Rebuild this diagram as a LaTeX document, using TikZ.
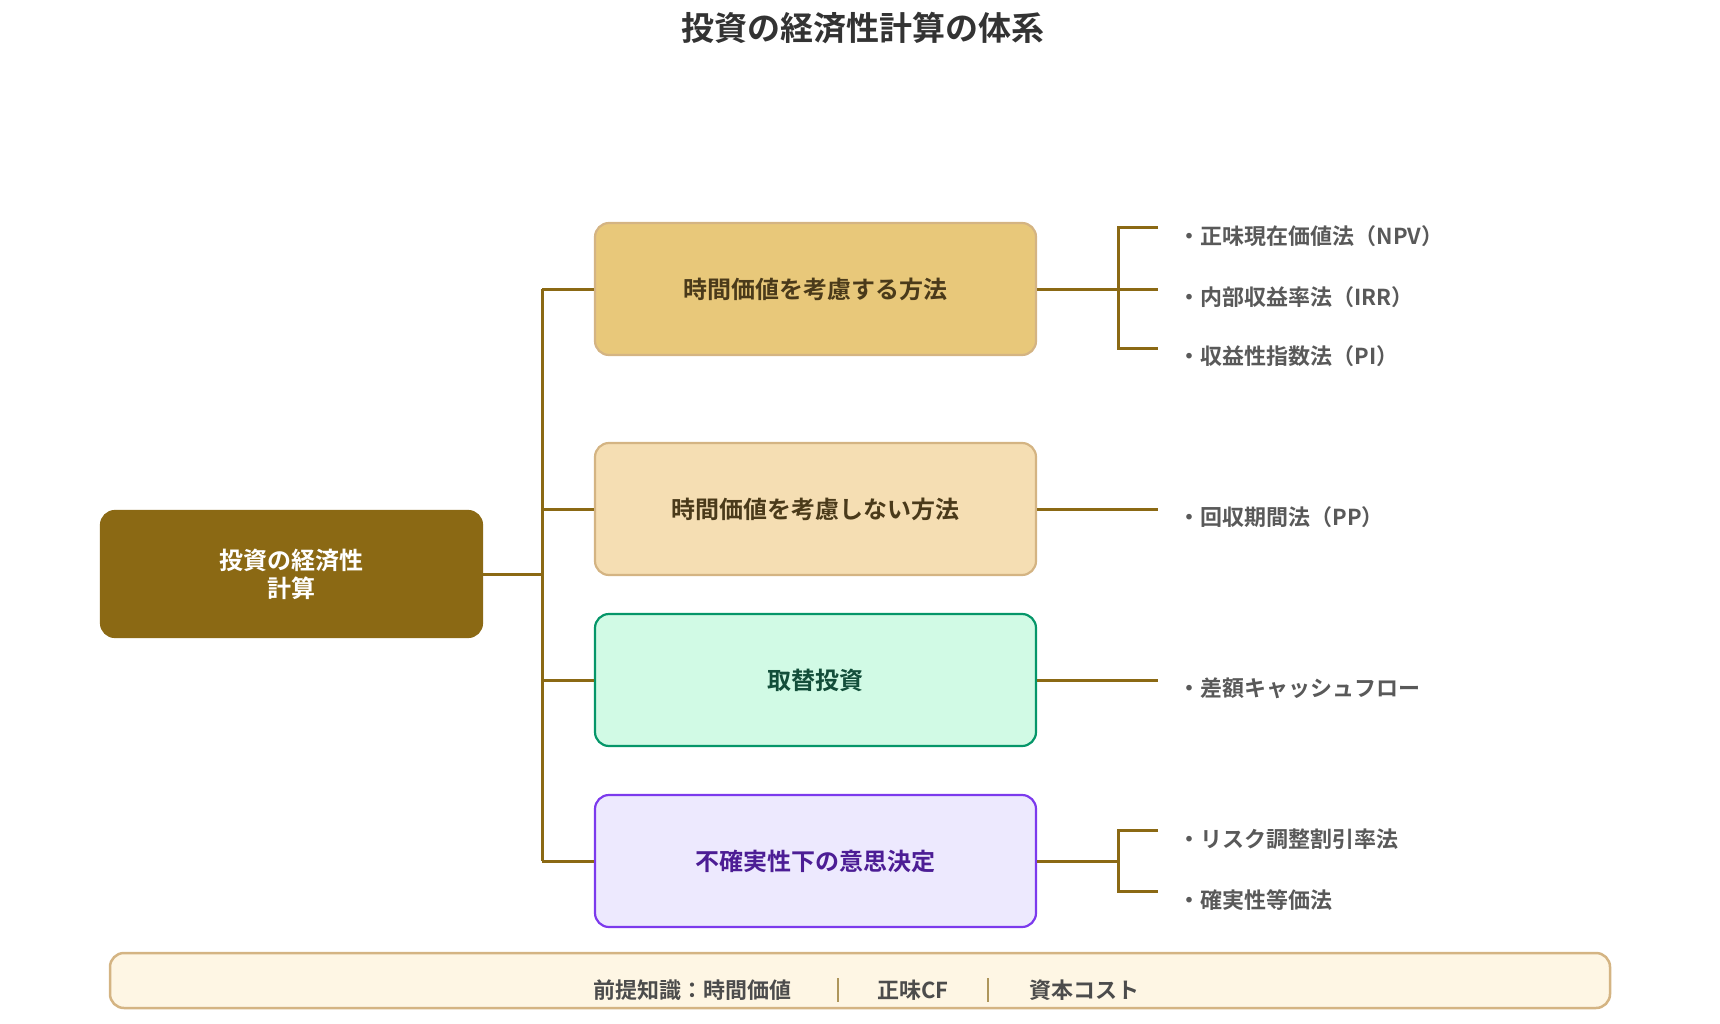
\documentclass[tikz,border=0pt]{standalone}
\usepackage{fontspec}
\setmainfont{Noto Sans CJK JP}[BoldFont={* Bold}]
\definecolor{brn}{HTML}{8B6914}
\definecolor{tan}{HTML}{D4B483}
\definecolor{f1}{HTML}{E8C87A}
\definecolor{f2}{HTML}{F5DEB3}
\definecolor{f3}{HTML}{D1FAE5}
\definecolor{d3}{HTML}{059669}
\definecolor{f4}{HTML}{EDE9FE}
\definecolor{d4}{HTML}{7C3AED}
\definecolor{t1}{HTML}{4A3A1A}
\definecolor{t3}{HTML}{134E3A}
\definecolor{t4}{HTML}{4C1D95}
\definecolor{fb}{HTML}{FEF6E4}
\begin{document}
\begin{tikzpicture}[x=1pt,y=-1pt,
 box/.style={rounded corners=14pt,line width=2.2pt,minimum width=441pt,minimum height=132pt,font=\fontsize{24}{28}\selectfont\bfseries},
 ln/.style={draw=brn,line width=3pt},
 it/.style={anchor=west,font=\fontsize{22}{26}\selectfont\bfseries,text=black!65}]
\useasboundingbox (0,0) rectangle (1720,1024);
\node (title) at (863,28) {\fontsize{33}{38}\selectfont\bfseries\color{black!80}投資の経済性計算の体系};
\node[box,fill=brn,draw=brn,text=white,minimum width=381pt,minimum height=126pt,align=center] (root) at (291.5,574) {\fontsize{24}{44}\selectfont\bfseries 投資の経済性\\計算};
\node[box,fill=f1,draw=tan,text=t1] (b1) at (815.5,289) {時間価値を考慮する方法};
\node[box,fill=f2,draw=tan,text=t1] (b2) at (815.5,509) {時間価値を考慮しない方法};
\node[box,fill=f3,draw=d3,text=t3] (b3) at (815.5,680) {取替投資};
\node[box,fill=f4,draw=d4,text=t4] (b4) at (815.5,861) {不確実性下の意思決定};
\coordinate (tr) at (542,574);
\draw[ln] (root.east) -- (tr);
\draw[ln] (542,289) -- (542,861);
\foreach \b in {b1,b2,b3,b4}{\draw[ln] (542,0 |- \b.west) -- (\b.west);}
\coordinate (j1) at (1118,289);
\draw[ln] (b1.east) -- (j1);
\draw[ln] (1158,228) -- (1118,228) -- (1118,348) -- (1158,348);
\draw[ln] (j1) -- (1158,289);
\node[it] (i1) at (1175,236) {・正味現在価値法（NPV）};
\node[it] (i2) at (1175,297) {・内部収益率法（IRR）};
\node[it] (i3) at (1175,356) {・収益性指数法（PI）};
\coordinate (e2) at (1158,509);
\draw[ln] (b2.east) -- (e2);
\node[it] (i4) at (1175,517) {・回収期間法（PP）};
\coordinate (e3) at (1158,680);
\draw[ln] (b3.east) -- (e3);
\node[it] (i5) at (1175,688) {・差額キャッシュフロー};
\coordinate (j4) at (1118,861);
\draw[ln] (b4.east) -- (j4);
\draw[ln] (1158,830) -- (1118,830) -- (1118,891) -- (1158,891);
\node[it] (i6) at (1175,839) {・リスク調整割引率法};
\node[it] (i7) at (1175,900) {・確実性等価法};
\node[draw=tan,fill=fb,line width=2.5pt,rounded corners=14pt,minimum width=1500pt,minimum height=55pt] (bot) at (860,980.5) {};
\begin{scope}[every node/.style={font=\fontsize{22}{26}\selectfont\bfseries,text=black!70}]
\node (p1) at (692,990) {前提知識：時間価値};
\node (p2) at (913,990) {正味CF};
\node (p3) at (1084,990) {資本コスト};
\end{scope}
\draw[brn!70,line width=1.2pt] (838,978) -- (838,1002) (988,978) -- (988,1002);
\end{tikzpicture}
\end{document}
